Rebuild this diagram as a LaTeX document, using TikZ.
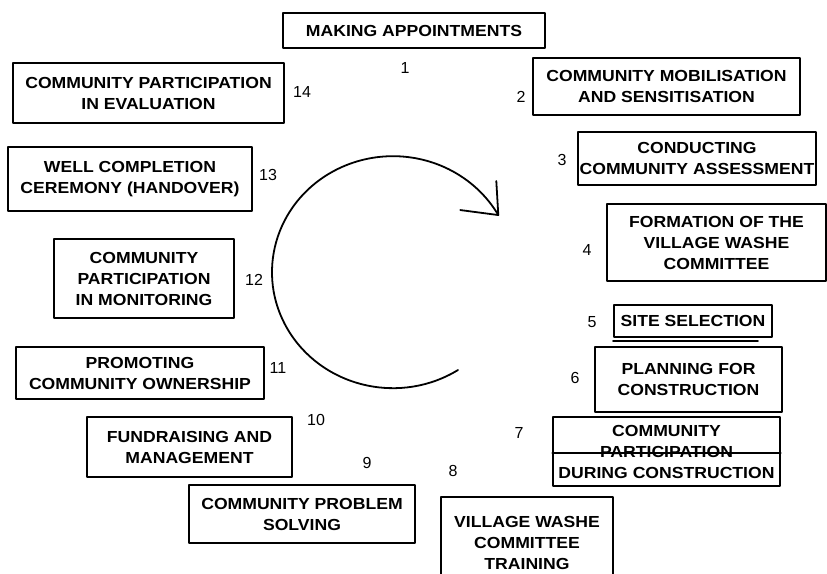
\documentclass[tikz,border=0pt]{standalone}
\usepackage{fontspec}
\setmainfont{Liberation Sans}
\newfontfamily\stagefont[FakeStretch=1.1]{Liberation Sans}
\begin{document}
\begin{tikzpicture}[x=1pt, y=-1pt, line join=round, line cap=round,
	stage/.style={draw, line width=1.6pt, align=center, inner sep=0pt,
		font=\stagefont\bfseries\fontsize{16}{21}\selectfont},
	numlabel/.style={font=\fontsize{16}{18}\selectfont}]
	\useasboundingbox (0,0) rectangle (827,573);
	% Các bước (khung)
	\node[stage, minimum width=262, minimum height=35] (s1) at (414,30.5) {MAKING APPOINTMENTS};
	\node[stage, minimum width=267, minimum height=57] (s2) at (666.5,86.5) {COMMUNITY MOBILISATION\\AND SENSITISATION};
	\node[stage, minimum width=238, minimum height=53] (s3) at (697,158.5) {CONDUCTING\\COMMUNITY ASSESSMENT};
	\node[stage, minimum width=219, minimum height=77] (s4) at (716.5,242.5) {FORMATION OF THE\\VILLAGE WASHE\\COMMITTEE};
	\node[stage, minimum width=158, minimum height=32] (s5) at (693,321) {SITE SELECTION};
	\node[stage, minimum width=187, minimum height=65] (s6) at (688.5,379.5) {PLANNING FOR\\CONSTRUCTION};
	\node[stage, minimum width=227, minimum height=69] (s7) at (666.5,451.5) {COMMUNITY\\PARTICIPATION\\DURING CONSTRUCTION};
	\node[stage, minimum width=172, minimum height=91] (s8) at (527,542.5) {VILLAGE WASHE\\COMMITTEE\\TRAINING};
	\node[stage, minimum width=226, minimum height=58] (s9) at (302,514) {COMMUNITY PROBLEM\\SOLVING};
	\node[stage, minimum width=205, minimum height=60] (s10) at (189.5,447) {FUNDRAISING AND\\MANAGEMENT};
	\node[stage, minimum width=248, minimum height=52] (s11) at (140,373) {PROMOTING\\COMMUNITY OWNERSHIP};
	\node[stage, minimum width=180, minimum height=79] (s12) at (144,278.5) {COMMUNITY\\PARTICIPATION\\IN MONITORING};
	\node[stage, minimum width=244, minimum height=64] (s13) at (130,179) {WELL COMPLETION\\CEREMONY (HANDOVER)};
	\node[stage, minimum width=271, minimum height=60] (s14) at (148.5,93) {COMMUNITY PARTICIPATION\\IN EVALUATION};
	% Gạch thêm
	\draw[line width=2pt] ([yshift=-3.5pt]s5.south west) -- ([xshift=-15pt,yshift=-3.5pt]s5.south east);
	\draw[line width=1.6pt] ([yshift=-1.5pt]s7.west) -- ([yshift=-1.5pt]s7.east);
	% Số thứ tự
	\foreach \so/\px/\py in {1/405/68, 2/521/97, 3/562/160, 4/587/250, 5/592/322, 6/575/378, 7/519/433,
		8/453/471, 9/367/463, 10/316/420, 11/278/368, 12/254/280, 13/268/175, 14/302/92}
		\node[numlabel] (n\so) at (\px,\py) {\so};
	% Mũi tên vòng
	\coordinate (as) at (458,370);
	\draw[line width=1.8pt] (as) arc[start angle=57.5, end angle=330.5, x radius=121, y radius=116] coordinate (ae);
	\draw[line width=1.8pt] (ae) ++(-38,-5) -- (ae) -- ++(-2,-34);
\end{tikzpicture}
\end{document}
